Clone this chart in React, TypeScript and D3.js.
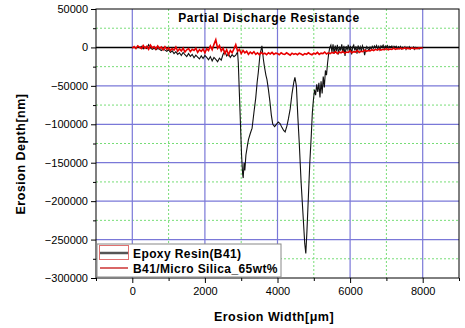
import React, { useEffect, useRef } from 'react';
import * as d3 from 'd3';

// Epoxy Resin(B41) profile: erosion width [um] vs depth [nm]
const epoxyX = [
  200, 250, 300, 350, 400, 450, 500, 550, 600, 650, 700, 750, 800, 850, 900, 950,
  1000, 1050, 1100, 1150, 1200, 1250, 1300, 1350, 1400, 1450, 1500, 1550, 1600, 1650,
  1700, 1750, 1800, 1850, 1900, 1950, 2000, 2050, 2100, 2150, 2200, 2250, 2300, 2350,
  2400, 2450, 2500, 2550, 2600, 2650, 2700, 2750, 2800, 2850, 2900,
  2920, 2950, 2980, 3010, 3040, 3055, 3080, 3100, 3130, 3170, 3200, 3250, 3300, 3350,
  3400, 3440, 3470, 3500, 3520, 3550, 3570, 3590, 3610, 3640, 3680, 3710, 3750, 3790,
  3830, 3870, 3920, 3970, 4020, 4070, 4120, 4170, 4210, 4260, 4300, 4350, 4400, 4450,
  4480, 4520, 4560, 4600, 4650, 4700, 4750, 4780, 4810, 4850, 4890, 4930, 4960, 4990,
  5020, 5050, 5080, 5110, 5140, 5170, 5200, 5230, 5260, 5290, 5320, 5350, 5380, 5410,
  5440, 5470, 5500, 5530, 5560, 5590, 5620, 5650, 5680, 5710, 5740, 5770, 5800, 5830,
  5860, 5890, 5920, 5950, 5980, 6010, 6040, 6070, 6100, 6130, 6160, 6190, 6220, 6250,
  6280, 6310, 6340, 6370, 6400, 6430, 6460, 6490, 6520, 6550, 6580, 6610, 6640, 6670,
  6700, 6730, 6760, 6790, 6820, 6850, 6880, 6910, 6940, 6970, 7000, 7030, 7060, 7090,
  7120, 7150, 7180, 7210, 7240, 7270, 7300, 7330, 7360, 7390, 7420, 7450, 7480, 7510,
  7540, 7570, 7600, 7630, 7660, 7690, 7720, 7750, 7780, 7810, 7840, 7870, 7900, 7930,
];
const epoxyY = [
  -1000, 1500, -2000, 500, -1500, 3500, -500, -2500, -1000, -3000, -1500, -2500, -4000, -2000, -3500, -5000,
  -3000, -6500, -4500, -8000, -5500, -9000, -7000, -10500, -6500, -9500, -12000, -8000, -11500, -9000,
  -13500, -10000, -12500, -15000, -11000, -14500, -10500, -13000, -16000, -12000, -17500, -13000, -15500, -18500,
  -14000, -16500, -9000, -5000, -11000, -8500, -13000, -9500, -12000, -10000, -6000,
  -20000, -60000, -100000, -140000, -165000, -170000, -150000, -160000, -140000, -128000, -120000, -112000, -105000, -85000,
  -66000, -45000, -33000, -18000, -8000, -3000, 2000, -6000, -15000, -25000, -36000, -42000, -55000, -70000,
  -88000, -100000, -103000, -100000, -97000, -99000, -104000, -108000, -110000, -102000, -93000, -80000, -60000, -45000,
  -39000, -50000, -90000, -125000, -175000, -215000, -255000, -268000, -240000, -195000, -150000, -115000, -85000, -68000,
  -55000, -62000, -48000, -58000, -46000, -65000, -44000, -60000, -38000, -52000, -30000, -36000, -20000, -8000,
  0, 3000, -6000, 4000, -8000, 2500, -5000, 3500, -9000, 1000, -4000, 4000, -7000, 2000,
  -11000, 1500, -3000, 3500, -6000, 2000, -9000, 500, 3000, -4000, 1500, -8000, 2500, -3000,
  1000, -5000, 2000, -2000, -10000, -3000, 1000, -1500, -4000, 500, -2000, 1500, -1000, 2000,
  -500, 2500, -1500, 1500, -3000, 2000, 500, 3000, -1000, 2000, 500, 2500, -500, 1500,
  500, 2000, -1000, 1500, 0, 1500, -1500, 1000, -500, 1500, -2000, 500, -1000, 1000,
  -2500, 500, -1500, 1000, -2000, 0, -1000, 500, -2500, 0, -1500, -500, -2000, -1000,
];

// B41/Micro Silica_65wt% profile
const silicaX = [
  0, 50, 100, 150,
  200, 250, 300, 350, 400, 450, 500, 550, 600, 650, 700, 750, 800, 850, 900, 950,
  1000, 1050, 1100, 1150, 1200, 1250, 1300, 1350, 1400, 1450, 1500, 1550, 1600, 1650,
  1700, 1750, 1800, 1850, 1900, 1950, 2000, 2050, 2100, 2150, 2200, 2250, 2300, 2350,
  2400, 2450, 2500, 2550, 2600, 2650, 2700, 2750, 2800, 2850, 2900, 2950, 3000, 3050,
  3100, 3150, 3200, 3250, 3300, 3350, 3400, 3450, 3500, 3550, 3600, 3650, 3700, 3750,
  3800, 3850, 3900, 3950, 4000, 4050, 4100, 4150, 4200, 4250, 4300, 4350, 4400, 4450,
  4500, 4550, 4600, 4650, 4700, 4750, 4800, 4850, 4900, 4950, 5000, 5050, 5100, 5150,
  5200, 5250, 5300, 5350, 5400, 5450, 5500, 5550, 5600, 5650, 5700, 5750, 5800, 5850,
  5900, 5950, 6000, 6050, 6100, 6150, 6200, 6250, 6300, 6350, 6400, 6450, 6500, 6550,
  6600, 6650, 6700, 6750, 6800, 6850, 6900, 6950, 7000, 7050, 7100, 7150, 7200, 7250,
  7300, 7350, 7400, 7450, 7500, 7550, 7600, 7650, 7700, 7750, 7800, 7850, 7900, 7950, 8000,
];
const silicaY = [
  -1000, 1000, -1500, 2000,
  500, -1500, 2500, -1000, 1500, -2500, 3000, -500, 1000, -2000, 2000, -1500, 500, -3000, 1000, -2500,
  -500, -4000, -1500, -3500, 500, -5000, -2000, -4500, -1000, -6000, -3000, -1500, -5500, -2500,
  -4000, -1000, -6500, -3000, -5000, -2000, -7000, -1500, -4000, 2000, -3000, 4000, 10000, -1000,
  2500, -4500, -1000, -8000, -3000, -9500, -4000, -7000, -2000, 3500, -5000, -2500, -8000, -4000,
  -7000, -5000, -9000, -6000, -8000, -5500, -9000, -7000, -9500, -6500, -8500, -7500, -9500, -7000,
  -8500, -6500, -9000, -7500, -8000, -9500, -7000, -8500, -9000, -7000, -8500, -10000, -7500, -9000,
  -8000, -9500, -7500, -8500, -10000, -8000, -9000, -7000, -8500, -9500, -7500, -8500, -6500, -9000,
  -7500, -8000, -6000, -8500, -7000, -8000, -6500, -7500, -5500, -8000, -6000, -7000, -5000, -7500,
  -6000, -6500, -4500, -7000, -5500, -6000, -4000, -6500, -5000, -5500, -3500, -5000, -4000, -4500,
  -3000, -4000, -2500, -3500, -2000, -3500, -2500, -3000, -1500, -3000, -2000, -2500, -1000, -2500,
  -1500, -2000, -1000, -2000, -500, -1500, -1000, -2000, -500, -1500, -1000, -1500, -500, -1000, -500,
];

const xTicks = [0, 2000, 4000, 6000, 8000];
const xMinorTicks = [-1000, 1000, 3000, 5000, 7000, 9000];
const yTicks = [50000, 0, -50000, -100000, -150000, -200000, -250000, -300000];
const yMinorTicks = [25000, -25000, -75000, -125000, -175000, -225000, -275000];
const seriesNames = ['Epoxy Resin(B41)', 'B41/Micro Silica_65wt%'];

const W = 465;
const H = 328;
const FONT = 'Arial, "Liberation Sans", sans-serif';

export default function App() {
  const svgRef = useRef<SVGSVGElement>(null);

  useEffect(() => {
    const svg = d3.select(svgRef.current);
    svg.selectAll('*').remove();

    const left = 96, right = 459, top = 9, bottom = 278;
    const x = d3.scaleLinear().domain([-1000, 9000]).range([left, right]);
    const y = d3.scaleLinear().domain([-300000, 50000]).range([bottom, top]);

    svg.append('rect').attr('width', W).attr('height', H).attr('fill', '#fff');

    // minor grid (green dotted)
    const grid = svg.append('g');
    xMinorTicks.filter(v => v > -1000 && v < 9000).forEach(v => {
      grid.append('line').attr('x1', x(v)).attr('x2', x(v)).attr('y1', top).attr('y2', bottom)
        .attr('stroke', '#77dd77').attr('stroke-width', 1).attr('stroke-dasharray', '2,2');
    });
    yMinorTicks.forEach(v => {
      grid.append('line').attr('x1', left).attr('x2', right).attr('y1', y(v)).attr('y2', y(v))
        .attr('stroke', '#77dd77').attr('stroke-width', 1).attr('stroke-dasharray', '2,2');
    });
    // major grid (blue)
    xTicks.forEach(v => {
      grid.append('line').attr('x1', x(v)).attr('x2', x(v)).attr('y1', top).attr('y2', bottom)
        .attr('stroke', '#7a78d8').attr('stroke-width', 1.2);
    });
    yTicks.filter(v => v < 50000 && v > -300000 && v !== 0).forEach(v => {
      grid.append('line').attr('x1', left).attr('x2', right).attr('y1', y(v)).attr('y2', y(v))
        .attr('stroke', '#7a78d8').attr('stroke-width', 1.2);
    });

    // zero line
    svg.append('line').attr('x1', left).attr('x2', right).attr('y1', y(0)).attr('y2', y(0))
      .attr('stroke', '#000').attr('stroke-width', 1.6);

    const line = d3.line<[number, number]>().x(d => x(d[0])).y(d => y(d[1]));

    svg.append('path')
      .attr('d', line(epoxyX.map((v, i) => [v, epoxyY[i]]) as [number, number][]))
      .attr('fill', 'none').attr('stroke', '#111').attr('stroke-width', 1.1);
    svg.append('path')
      .attr('d', line(silicaX.map((v, i) => [v, silicaY[i]]) as [number, number][]))
      .attr('fill', 'none').attr('stroke', '#e80000').attr('stroke-width', 1.6);

    // frame
    svg.append('rect').attr('x', left).attr('y', top).attr('width', right - left).attr('height', bottom - top)
      .attr('fill', 'none').attr('stroke', '#000').attr('stroke-width', 1);

    // axes
    const xAxis = d3.axisBottom(x).tickValues(xTicks).tickSize(5).tickPadding(4).tickFormat(d3.format('d'));
    const gx = svg.append('g').attr('transform', `translate(0,${bottom})`).call(xAxis);
    const gxm = svg.append('g').attr('transform', `translate(0,${bottom})`)
      .call(d3.axisBottom(x).tickValues(xMinorTicks).tickSize(3).tickFormat(() => ''));
    const yAxis = d3.axisLeft(y).tickValues(yTicks).tickSize(5).tickPadding(3).tickFormat(d3.format('d'));
    const gy = svg.append('g').attr('transform', `translate(${left},0)`).call(yAxis);
    const gym = svg.append('g').attr('transform', `translate(${left},0)`)
      .call(d3.axisLeft(y).tickValues(yMinorTicks).tickSize(3).tickFormat(() => ''));
    [gx, gxm, gy, gym].forEach(g => {
      g.select('.domain').remove();
      g.selectAll('line').attr('stroke', '#000');
      g.selectAll('text').attr('font-family', FONT).attr('font-size', 11).attr('fill', '#000');
    });

    // title and axis titles
    svg.append('text').attr('x', 269).attr('y', 22).attr('text-anchor', 'middle')
      .attr('font-family', FONT).attr('font-size', 12).attr('font-weight', 'bold').attr('letter-spacing', 0.6)
      .text('Partial Discharge Resistance');
    svg.append('text').attr('x', 274).attr('y', 321).attr('text-anchor', 'middle')
      .attr('font-family', FONT).attr('font-size', 12.5).attr('font-weight', 'bold').attr('letter-spacing', 0.5)
      .text('Erosion Width[\u03bcm]');
    svg.append('text').attr('transform', 'translate(25,154) rotate(-90)').attr('text-anchor', 'middle')
      .attr('font-family', FONT).attr('font-size', 12.5).attr('font-weight', 'bold').attr('letter-spacing', 0.5)
      .text('Erosion Depth[nm]');

    // legend
    const lg = svg.append('g');
    lg.append('rect').attr('x', 97).attr('y', 244).attr('width', 184).attr('height', 33)
      .attr('fill', '#fff').attr('stroke', '#888').attr('stroke-width', 1);
    lg.append('rect').attr('x', 99.5).attr('y', 245.5).attr('width', 29).attr('height', 14)
      .attr('fill', 'none').attr('stroke', '#e07070').attr('stroke-width', 1);
    lg.append('line').attr('x1', 100).attr('x2', 128).attr('y1', 253).attr('y2', 253)
      .attr('stroke', '#555').attr('stroke-width', 2.5);
    lg.append('line').attr('x1', 100).attr('x2', 128).attr('y1', 268).attr('y2', 268)
      .attr('stroke', '#c00000').attr('stroke-width', 1.2);
    seriesNames.forEach((name, i) => {
      lg.append('text').attr('x', 133).attr('y', 257.5 + i * 15)
        .attr('font-family', FONT).attr('font-size', 12).attr('font-weight', 'bold').attr('letter-spacing', 0.4)
        .text(name);
    });
  }, []);

  return (
    <svg ref={svgRef} width={W} height={H} style={{ position: 'absolute', left: 0, top: 0 }} />
  );
}
